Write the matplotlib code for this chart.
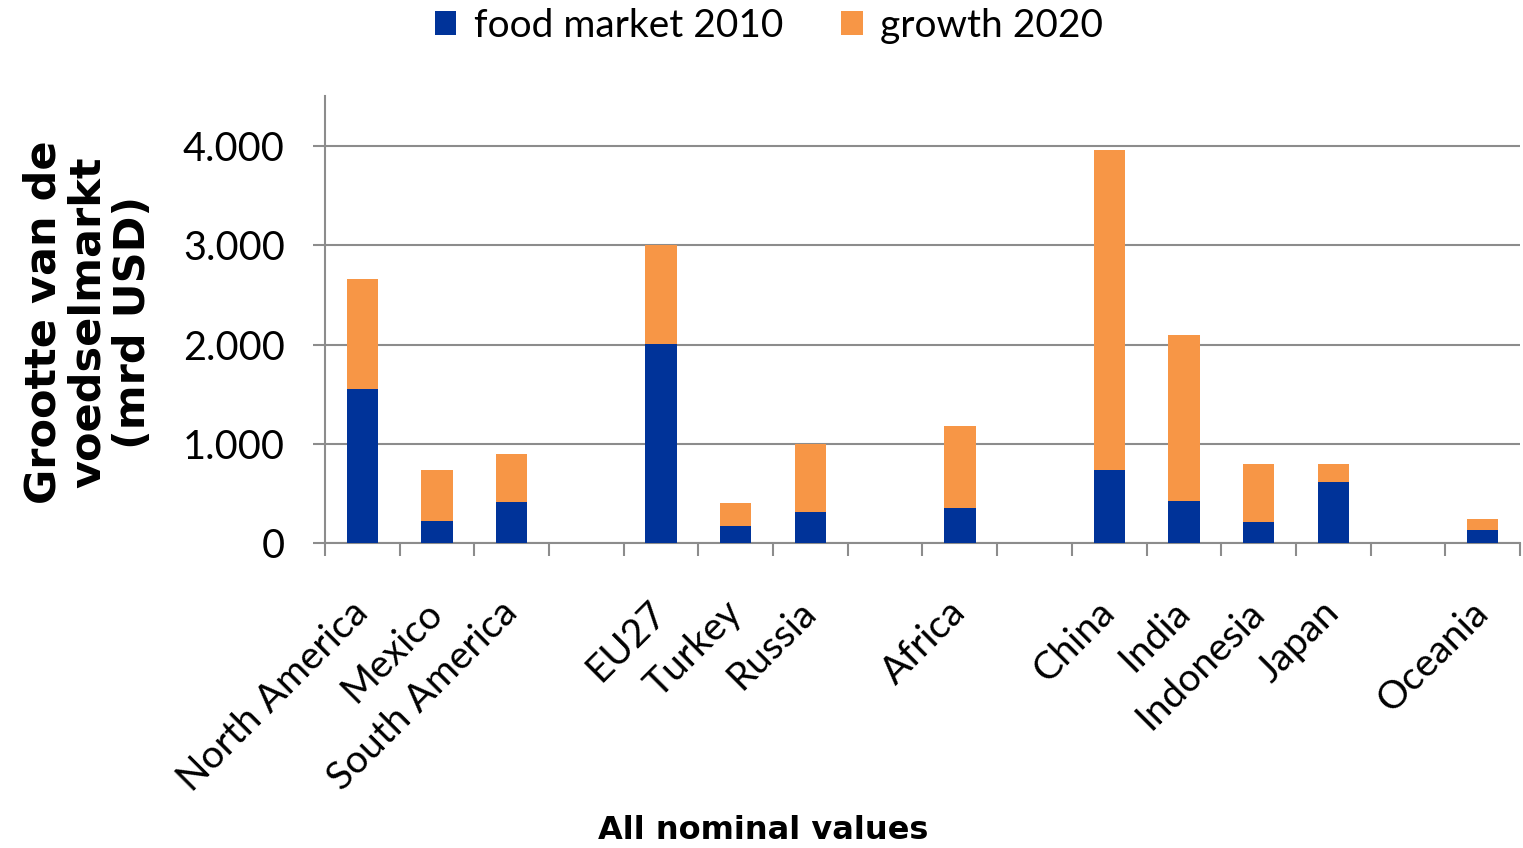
import matplotlib.pyplot as plt
import numpy as np
from matplotlib.ticker import FuncFormatter

# regions (empty strings are the gaps in the chart)
regions = ["North America", "Mexico", "South America", "", "EU27", "Turkey", "Russia", "",
           "Africa", "", "China", "India", "Indonesia", "Japan", "", "Oceania"]
# food market 2010 (mrd USD)
market_2010 = [1550, 220, 410, 0, 2010, 170, 310, 0, 350, 0, 740, 420, 210, 610, 0, 130]
# growth up to 2020 (mrd USD)
growth_2020 = [1110, 515, 490, 0, 990, 235, 690, 0, 830, 0, 3220, 1680, 590, 190, 0, 115]

blue = "#003399"
orange = "#F79646"
grey = "#8c8c8c"

fig = plt.figure(figsize=(15.23, 8.48), dpi=100)
ax = fig.add_axes([0.2134, 0.3597, 0.7846, 0.5266])

x = np.arange(len(regions))
ax.bar(x, market_2010, width=0.42, color=blue, label="food market 2010", zorder=3)
ax.bar(x, growth_2020, width=0.42, bottom=market_2010, color=orange, label="growth 2020", zorder=3)

ax.set_xlim(-0.5, len(regions) - 0.5)
ax.set_ylim(0, 4500)
ax.set_yticks([0, 1000, 2000, 3000, 4000])
ax.yaxis.set_major_formatter(FuncFormatter(lambda v, p: f"{int(v):,}".replace(",", ".")))
ax.grid(axis="y", color=grey, linewidth=1.5, zorder=0)

ax.set_xticks(x)
ax.set_xticklabels(regions, rotation=45, ha="right", va="center", rotation_mode="anchor",
                   fontsize=28, family="Lato")
ax.set_xticks(np.arange(-0.5, len(regions)), minor=True)
ax.tick_params(axis="x", which="major", length=0, pad=46)
ax.tick_params(axis="x", which="minor", length=9, width=1.5, color=grey)
ax.tick_params(axis="y", length=9, width=1.5, color=grey, labelsize=28.5, pad=20)
for lbl in ax.get_yticklabels():
    lbl.set_family("Lato")

for s in ["top", "right"]:
    ax.spines[s].set_visible(False)
for s in ["left", "bottom"]:
    ax.spines[s].set_color(grey)
    ax.spines[s].set_linewidth(1.5)

fig.text(0.058, 0.62, "Grootte van de\nvoedselmarkt\n(mrd USD)", rotation=90, ha="center", va="center",
         fontsize=31, fontweight="bold", linespacing=1.08)
fig.text(0.501, 0.021, "All nominal values", ha="center", va="center", fontsize=23, fontweight="bold")

fig.legend(loc="upper center", bbox_to_anchor=(0.505, 1.032), ncol=2, frameon=False,
           prop={"family": "Lato", "size": 28}, handlelength=0.55, handleheight=0.55,
           handletextpad=0.45, columnspacing=1.5)

fig.savefig("out.png", dpi=100)
